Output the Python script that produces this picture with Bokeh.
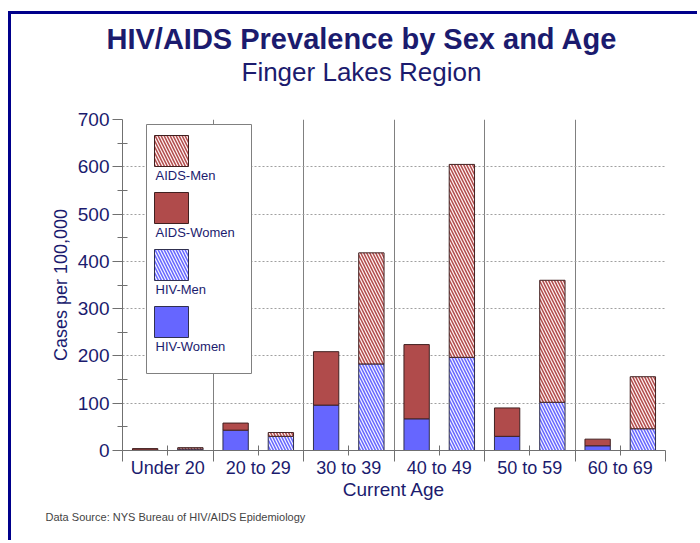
import numpy as np
from bokeh.plotting import figure
from bokeh.models import (FixedTicker, Label, BoxAnnotation, Range1d, ColumnDataSource, Title)
from bokeh.embed import file_html
from bokeh.resources import INLINE

# ---- data ----
ages = ["Under 20", "20 to 29", "30 to 39", "40 to 49", "50 to 59", "60 to 69"]
hiv_women = [1, 43, 96, 67, 30, 10]
aids_women = [3, 15, 113, 157, 60, 14]
hiv_men = [3, 30, 183, 197, 102, 46]
aids_men = [3, 8, 235, 408, 258, 110]
y_ticks = [0, 100, 200, 300, 400, 500, 600, 700]

title_text = "HIV/AIDS Prevalence by Sex and Age"
subtitle_text = "Finger Lakes Region"
source_text = "Data Source:  NYS Bureau of HIV/AIDS Epidemiology"
legend_names = ["AIDS-Men", "AIDS-Women", "HIV-Men", "HIV-Women"]

NAVY = "#1b1b6e"
RED = "#b04b4b"
BLUE = "#6666ff"
FONT = "Liberation Sans"

idx = np.arange(len(ages))
hw = np.array(hiv_women, dtype=float)
aw = np.array(aids_women, dtype=float)
hm = np.array(hiv_men, dtype=float)
am = np.array(aids_men, dtype=float)

src = ColumnDataSource(dict(
    xw=idx + 0.25, xm=idx + 0.75,
    hw_top=hw, aw_top=hw + aw,
    hm_top=hm, am_top=hm + am,
))

p = figure(width=689, height=529, output_backend="svg", toolbar_location=None,
           x_range=Range1d(0, len(ages)), y_range=Range1d(0, 700),
           min_border_left=111, min_border_right=35, min_border_top=0,
           min_border_bottom=93, outline_line_color=None,
           background_fill_color="white", border_fill_color="white")
p.styles = {"border-left": "3px solid #00008b", "border-top": "3px solid #00008b",
            "margin-left": "8px", "margin-top": "11px"}

# ---- titles: stacked panels above the frame (nearest first) ----
p.title.text = " "
p.title.text_font_size = "1px"
p.title.standoff = 3
p.add_layout(Title(text=" ", text_font_size="1px", standoff=30), "above")
p.add_layout(Title(text=subtitle_text, text_font=FONT, text_font_size="26px",
                   text_font_style="normal", text_color=NAVY, align="left",
                   offset=119, standoff=0), "above")
p.add_layout(Title(text=title_text, text_font=FONT, text_font_size="29px",
                   text_font_style="bold", text_color=NAVY, align="left",
                   offset=-16, standoff=0), "above")
p.add_layout(Title(text=source_text, text_font=FONT, text_font_size="11px",
                   text_font_style="normal", text_color="#444444", align="left",
                   offset=-77, standoff=12), "below")

BW = 0.28
p.vbar(x="xw", bottom=0, top="hw_top", width=BW, source=src,
       fill_color=BLUE, line_color="#303050", line_width=1)
p.vbar(x="xw", bottom="hw_top", top="aw_top", width=BW, source=src,
       fill_color=RED, line_color="#402020", line_width=1)
p.vbar(x="xm", bottom=0, top="hm_top", width=BW, source=src,
       fill_color="#f4f4ff", hatch_pattern="\\", hatch_color=BLUE,
       hatch_scale=6, hatch_weight=1.5, line_color="#303050", line_width=1)
p.vbar(x="xm", bottom="hm_top", top="am_top", width=BW, source=src,
       fill_color="#fff2f2", hatch_pattern="\\", hatch_color=RED,
       hatch_scale=6, hatch_weight=1.5, line_color="#402020", line_width=1)

# ---- axes ----
centers = list(idx + 0.5)
bounds = list(range(0, len(ages) + 1))
xax = p.xaxis[0]
xax.ticker = FixedTicker(ticks=centers, minor_ticks=bounds)
xax.major_label_overrides = {float(c): a for c, a in zip(centers, ages)}
xax.major_tick_in = 5
xax.major_tick_out = 5
xax.minor_tick_in = 0
xax.minor_tick_out = 11
xax.axis_line_color = "#707070"
xax.major_tick_line_color = "#707070"
xax.minor_tick_line_color = "#707070"
xax.major_label_text_font = FONT
xax.major_label_text_font_size = "18px"
xax.major_label_text_color = NAVY
xax.major_label_standoff = -4
xax.axis_label = "Current Age"
xax.axis_label_text_font = FONT
xax.axis_label_text_font_size = "19px"
xax.axis_label_text_font_style = "normal"
xax.axis_label_text_color = NAVY
xax.axis_label_standoff = -2

yax = p.yaxis[0]
yax.ticker = FixedTicker(ticks=y_ticks, minor_ticks=list(range(50, 700, 100)))
yax.major_tick_in = 0
yax.major_tick_out = 10
yax.minor_tick_in = 5
yax.minor_tick_out = 5
yax.axis_line_color = "#707070"
yax.major_tick_line_color = "#707070"
yax.minor_tick_line_color = "#707070"
yax.major_label_text_font = FONT
yax.major_label_text_font_size = "19px"
yax.major_label_text_color = NAVY
yax.major_label_standoff = 3
yax.axis_label = "Cases per 100,000"
yax.axis_label_text_font = FONT
yax.axis_label_text_font_size = "18px"
yax.axis_label_text_font_style = "normal"
yax.axis_label_text_color = NAVY
yax.axis_label_standoff = 4

p.xgrid.ticker = FixedTicker(ticks=bounds[1:])
p.xgrid.grid_line_color = "#808080"
p.xgrid.grid_line_width = 1
p.ygrid.ticker = FixedTicker(ticks=y_ticks[1:])
p.ygrid.grid_line_color = "#a0a0a0"
p.ygrid.grid_line_dash = "2 2"

# ---- legend (drawn inside the frame) ----
p.add_layout(BoxAnnotation(left=24, right=129, top=326, bottom=77,
                           left_units="screen", right_units="screen",
                           top_units="screen", bottom_units="screen",
                           fill_color="white", fill_alpha=1,
                           line_color="#808080", line_alpha=1, line_width=1))
styles = [
    dict(fill_color="#fff2f2", hatch_pattern="\\", hatch_color=RED, line_color="#402020"),
    dict(fill_color=RED, hatch_pattern=None, hatch_color=RED, line_color="#402020"),
    dict(fill_color="#f4f4ff", hatch_pattern="\\", hatch_color=BLUE, line_color="#303050"),
    dict(fill_color=BLUE, hatch_pattern=None, hatch_color=BLUE, line_color="#303050"),
]
for k, (name, st) in enumerate(zip(legend_names, styles)):
    top = 315 - 57 * k
    p.add_layout(BoxAnnotation(left=32, right=66, top=top, bottom=top - 31,
                               left_units="screen", right_units="screen",
                               top_units="screen", bottom_units="screen",
                               fill_color=st["fill_color"], fill_alpha=1,
                               hatch_pattern=st["hatch_pattern"], hatch_color=st["hatch_color"],
                               hatch_scale=6, hatch_weight=1.5,
                               line_color=st["line_color"], line_alpha=1, line_width=1))
    p.add_layout(Label(x=33, y=top - 40, x_units="screen", y_units="screen", text=name,
                       text_align="left", text_baseline="middle",
                       text_font=FONT, text_font_size="13px", text_color=NAVY))

open("out.html", "w").write(file_html(p, INLINE))
